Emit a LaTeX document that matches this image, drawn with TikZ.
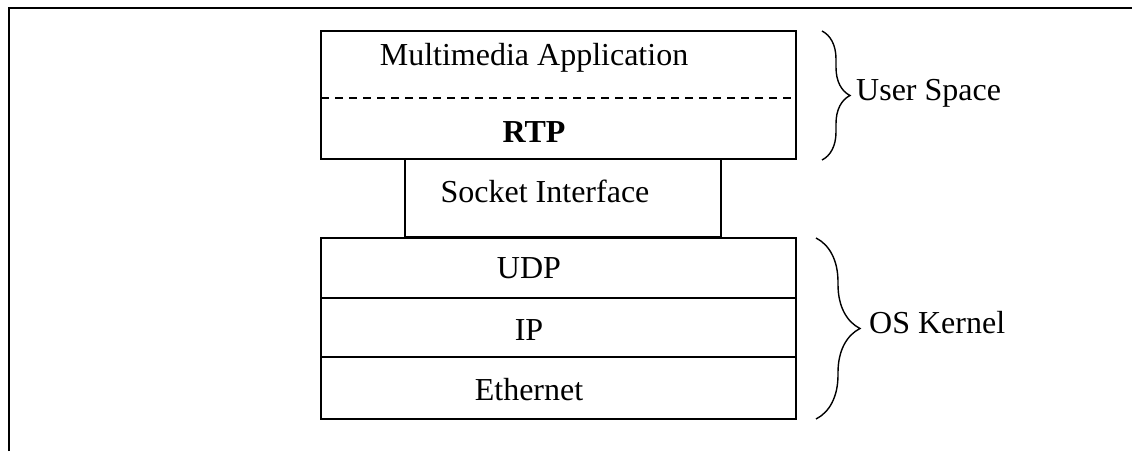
\documentclass[tikz,border=0pt]{standalone}
\usepackage{fontspec}
\setmainfont{Liberation Serif}
\usetikzlibrary{decorations.pathreplacing}
\begin{document}
\begin{tikzpicture}[x=1pt,y=-1pt,
  layer/.style={draw, line width=1.3pt, minimum width=475pt, inner sep=0pt, outer sep=0pt, anchor=north west},
  lbl/.style={font=\fontsize{32}{38}\selectfont, anchor=base, inner sep=0pt},
  side/.style={font=\fontsize{32}{38}\selectfont, anchor=base west, inner sep=0pt},
  brc/.style={decorate, decoration={brace, amplitude=#1}, line width=1.4pt}]
\useasboundingbox (0,0) rectangle (1132,451);
\coordinate (f1) at (9,451);
\coordinate (f2) at (9,8);
\coordinate (f3) at (1132,8);
\draw[line width=2pt] (f1) -- (f2) -- (f3);
% layers
\node[layer, minimum height=128pt] (app) at (321,31) {};
\node[layer, minimum width=316pt, minimum height=78pt] (sock) at (405,159) {};
\node[layer, minimum height=60pt] (udp) at (321,238) {};
\node[layer, minimum height=59pt] (ip) at (321,298) {};
\node[layer, minimum height=62pt] (eth) at (321,357) {};
\coordinate (d1) at (321,98);
\coordinate (d2) at (796,98);
\draw[line width=1.3pt, dash pattern=on 8pt off 6pt] (d1) -- (d2);
% labels
\node[lbl] (tmm) at (534,65) {Multimedia Application};
\node[lbl] (trtp) at (534,142) {\bfseries RTP};
\node[lbl] (tsock) at (545,202) {Socket Interface};
\node[lbl] (tudp) at (529,278) {UDP};
\node[lbl] (tip) at (529,340) {IP};
\node[lbl] (teth) at (529,400) {Ethernet};
% braces
\coordinate (b1) at (822,31);
\coordinate (b2) at (822,160);
\coordinate (b3) at (816,238);
\coordinate (b4) at (816,419);
\draw[brc=28pt] (b1) -- (b2);
\draw[brc=44pt] (b3) -- (b4);
\node[side] (user) at (856,100) {User Space};
\node[side] (kern) at (869,333) {OS Kernel};
\end{tikzpicture}
\end{document}
